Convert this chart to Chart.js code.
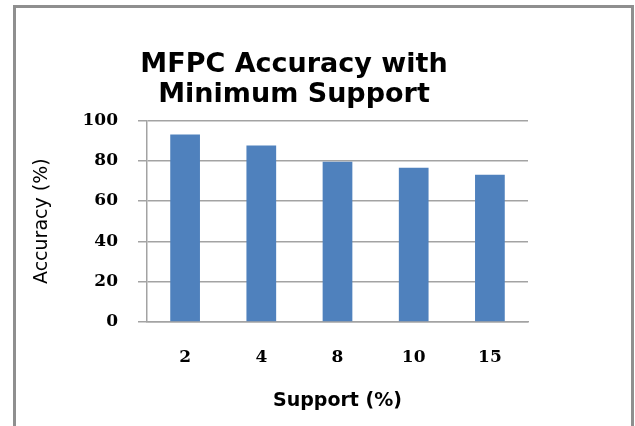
<!DOCTYPE html>
<html>
<head>
<meta charset="utf-8">
<script src="https://cdn.jsdelivr.net/npm/chart.js@4.4.1/dist/chart.umd.min.js"></script>
<style>
	html, body { margin: 0; padding: 0; background: #fff; }
	#wrap { position: relative; width: 635px; height: 426px; overflow: hidden; }
	#frame { position: absolute; left: 13px; top: 5px; width: 615px; height: 500px; border: 3px solid #8f8f8f; pointer-events: none; }
</style>
</head>
<body>
<div id="wrap">
	<canvas id="accuracyChart" width="635" height="426"></canvas>
	<div id="frame"></div>
</div>
<script>
"use strict"

const supportLabels = ["2", "4", "8", "10", "15"]
const accuracyValues = [93, 87.5, 79.5, 76.5, 73]
const accuracyTicks = [0, 20, 40, 60, 80, 100]

const gridGray = "#a3a3a3"

// title is centred over the whole canvas by default, nudge it over the plot
const titleShift = {
	id: "titleShift",
	afterLayout(chart) {
		let t = chart.titleBlock
		t.left += 23
		t.right += 23
	},
}

let ctx = document.getElementById("accuracyChart").getContext("2d")

let chart = new Chart(ctx, {
	type: "bar",
	data: {
		labels: supportLabels,
		datasets: [
			{
				label: "Accuracy",
				data: accuracyValues,
				backgroundColor: "#4f81bd",
				borderWidth: 0,
				barPercentage: 0.39,
				categoryPercentage: 1,
			},
		],
	},
	plugins: [titleShift],
	options: {
		responsive: false,
		animation: false,
		layout: {
			padding: { left: 14, right: 107, top: 5, bottom: 4 },
		},
		plugins: {
			legend: { display: false },
			tooltip: { enabled: false },
			title: {
				display: true,
				text: ["MFPC Accuracy with", "Minimum Support"],
				color: "#000",
				font: { family: "DejaVu Sans", size: 27, weight: "bold", lineHeight: 1.1 },
				padding: { top: 45, bottom: 11 },
			},
		},
		scales: {
			x: {
				grid: { display: false, drawTicks: false },
				border: { display: true, color: gridGray, width: 1.5 },
				ticks: {
					color: "#000",
					padding: 25,
					font: { family: "DejaVu Serif", size: 17, weight: "bold" },
				},
				title: {
					display: true,
					text: "Support (%)",
					color: "#000",
					font: { family: "DejaVu Sans", size: 19, weight: "bold", lineHeight: 1.2 },
					padding: { top: 0, bottom: 10 },
				},
				afterFit: (scale) => {
					scale.height = 100
				},
			},
			y: {
				min: 0,
				max: 100,
				afterBuildTicks: (scale) => {
					scale.ticks = accuracyTicks.map((v) => ({ value: v }))
				},
				grid: { color: gridGray, lineWidth: 1.5, tickLength: 9 },
				border: { display: true, color: gridGray, width: 1.5 },
				ticks: {
					color: "#000",
					padding: 20,
					font: { family: "DejaVu Serif", size: 17, weight: "bold" },
				},
				title: {
					display: true,
					text: "Accuracy (%)",
					color: "#000",
					font: { family: "DejaVu Sans", size: 19, lineHeight: 1.2 },
					padding: { top: 17, bottom: 0 },
				},
				afterFit: (scale) => {
					scale.width = 133
				},
			},
		},
	},
})
</script>
</body>
</html>
